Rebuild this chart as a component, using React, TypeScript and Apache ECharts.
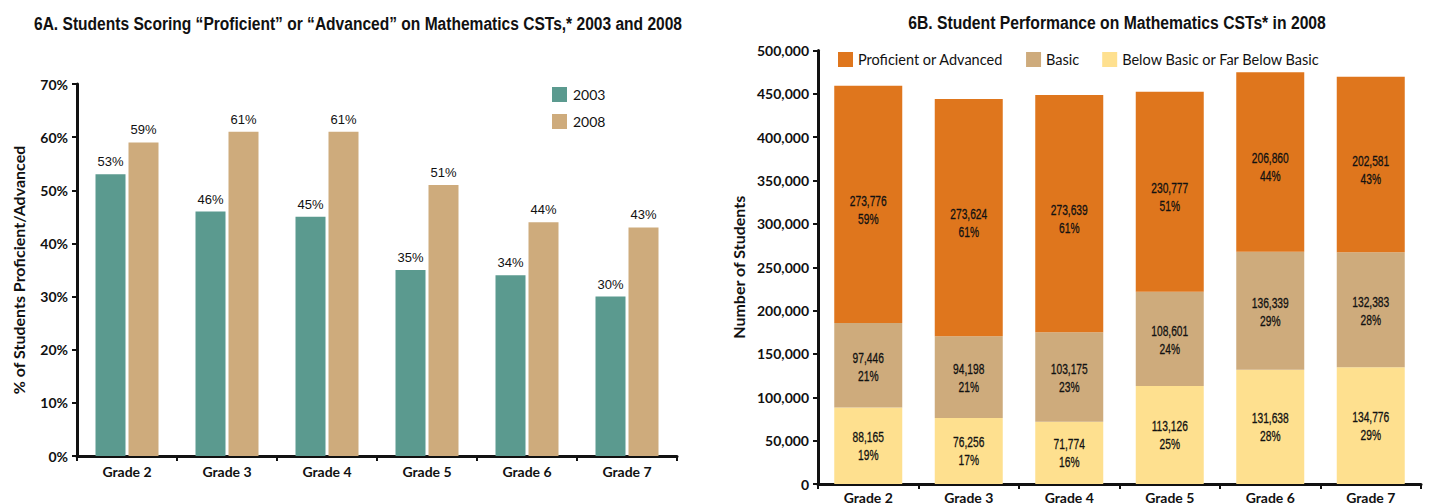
import React, { useEffect, useRef } from "react";
import * as echarts from "echarts";

const grades = ["Grade 2", "Grade 3", "Grade 4", "Grade 5", "Grade 6", "Grade 7"];
const pct2003 = [53, 46, 45, 35, 34, 30];
const pct2008 = [59, 61, 61, 51, 44, 43];

const proficient = [273776, 273624, 273639, 230777, 206860, 202581];
const basic = [97446, 94198, 103175, 108601, 136339, 132383];
const below = [88165, 76256, 71774, 113126, 131638, 134776];
const proficientPct = [59, 61, 61, 51, 44, 43];
const basicPct = [21, 21, 23, 24, 29, 28];
const belowPct = [19, 17, 16, 25, 28, 29];

const leftTicks = [0, 10, 20, 30, 40, 50, 60, 70];
const rightTicks = [0, 50000, 100000, 150000, 200000, 250000, 300000, 350000, 400000, 450000, 500000];

const titleA = "6A. Students Scoring \u201cProficient\u201d or \u201cAdvanced\u201d on Mathematics CSTs,* 2003 and 2008";
const titleB = "6B. Student Performance on Mathematics CSTs* in 2008";

const TEAL = "#5B9A8F";
const TAN = "#CEAB7C";
const ORANGE = "#DF761D";
const YELLOW = "#FEE08F";
const INK = "#111";

const HUMAN = "Lato, 'Open Sans', sans-serif";
const TITLE_FONT = "bold 19px 'Liberation Sans', Arial, sans-serif";
const LABEL_FONT = "15px 'Liberation Sans', Arial, sans-serif";
const SMALL_FONT = "13px 'Liberation Sans', Arial, sans-serif";

const fmt = (v: number) => v.toLocaleString("en-US");

function measure(text: string, font: string) {
  const ctx = document.createElement("canvas").getContext("2d");
  if (!ctx) return text.length * 8;
  ctx.font = font;
  return ctx.measureText(text).width;
}

export default function App() {
  const ref = useRef<HTMLDivElement>(null);
  useEffect(() => {
    if (!ref.current) return;
    const chart = echarts.init(ref.current, null, { renderer: "svg" });
    const axisLine = { show: true, lineStyle: { color: "#111", width: 3 } };
    const axisTick = { show: true, length: 5, lineStyle: { color: "#111", width: 2 } };
    const axisLabelStyle = { color: "#111", fontFamily: HUMAN, fontWeight: "bold" as const, fontSize: 14 };

    const scaleA = 648 / measure(titleA, TITLE_FONT);
    const scaleB = 418 / measure(titleB, TITLE_FONT);
    const labelScale = 37 / measure("273,776", LABEL_FONT);
    const smallScale = 21 / measure("53%", SMALL_FONT);

    const layers = [
      { values: below, pcts: belowPct, dy: 0 },
      { values: basic, pcts: basicPct, dy: 1 },
      { values: proficient, pcts: proficientPct, dy: 5 },
    ];
    const labelSeries = layers.map((layer, li) => {
      const data = grades.map((_, i) => {
        let base = 0;
        for (let k = 0; k < li; k++) base += layers[k].values[i];
        return [i, base, layer.values[i], layer.pcts[i]];
      });
      return {
        type: "custom",
        xAxisIndex: 1,
        yAxisIndex: 1,
        z: 5,
        silent: true,
        data,
        renderItem: (_params: any, api: any) => {
          const base = api.value(1);
          const v = api.value(2);
          const p = api.coord([api.value(0), base + v / 2]);
          return {
            type: "text",
            x: p[0],
            y: p[1] + layer.dy,
            scaleX: labelScale,
            style: {
              text: `${fmt(v)}\n${api.value(3)}%`,
              font: LABEL_FONT,
              fill: INK,
              stroke: INK,
              lineWidth: 0.3,
              align: "center",
              verticalAlign: "middle",
              lineHeight: 18,
            },
          };
        },
      };
    });

    const topLabel = {
      show: true,
      position: "top",
      distance: 6,
      color: INK,
      fontFamily: "'Liberation Sans', Arial, sans-serif",
      fontSize: 13,
      formatter: "{c}%",
    };

    chart.setOption({
      animation: false,
      graphic: [
        {
          type: "text",
          x: 358,
          y: 23,
          scaleX: scaleA,
          style: { text: titleA, font: TITLE_FONT, fill: "#111", align: "center", verticalAlign: "middle" },
        },
        {
          type: "text",
          x: 1117,
          y: 22,
          scaleX: scaleB,
          style: { text: titleB, font: TITLE_FONT, fill: "#111", align: "center", verticalAlign: "middle" },
        },
      ],
      legend: [
        {
          data: ["2003", "2008"],
          orient: "vertical",
          left: 552,
          top: 87,
          padding: 0,
          itemWidth: 15,
          itemHeight: 15,
          itemGap: 12,
          icon: "rect",
          textStyle: { fontFamily: HUMAN, fontSize: 14, color: "#111", padding: [0, 0, 0, 1] },
        },
        {
          data: ["Proficient or Advanced", "Basic", "Below Basic or Far Below Basic"],
          orient: "horizontal",
          left: 838,
          top: 52,
          padding: 0,
          itemWidth: 15,
          itemHeight: 15,
          itemGap: 23,
          icon: "rect",
          textStyle: { fontFamily: HUMAN, fontSize: 14.5, color: "#111" },
        },
      ],
      grid: [
        { left: 77, top: 84, width: 600, height: 372 },
        { left: 818, top: 50.5, width: 603, height: 436 },
      ],
      xAxis: [
        {
          type: "category",
          gridIndex: 0,
          data: grades,
          axisLine,
          axisTick,
          axisLabel: { ...axisLabelStyle, margin: 8 },
        },
        {
          type: "category",
          gridIndex: 1,
          data: grades,
          axisLine,
          axisTick,
          axisLabel: { ...axisLabelStyle, margin: 6 },
        },
      ],
      yAxis: [
        {
          type: "value",
          gridIndex: 0,
          min: leftTicks[0],
          max: leftTicks[leftTicks.length - 1],
          interval: leftTicks[1] - leftTicks[0],
          axisLine,
          axisTick,
          splitLine: { show: false },
          axisLabel: { ...axisLabelStyle, margin: 9, formatter: (v: number) => `${v}%` },
          name: "% of Students Proficient/Advanced",
          nameLocation: "middle",
          nameGap: 51,
          nameTextStyle: { ...axisLabelStyle, fontSize: 16 },
        },
        {
          type: "value",
          gridIndex: 1,
          min: rightTicks[0],
          max: rightTicks[rightTicks.length - 1],
          interval: rightTicks[1] - rightTicks[0],
          axisLine,
          axisTick,
          splitLine: { show: false },
          axisLabel: { ...axisLabelStyle, margin: 9, formatter: (v: number) => fmt(v) },
          name: "Number of Students",
          nameLocation: "middle",
          nameGap: 72,
          nameTextStyle: { ...axisLabelStyle, fontSize: 16 },
        },
      ],
      series: [
        {
          name: "2003",
          type: "bar",
          xAxisIndex: 0,
          yAxisIndex: 0,
          data: pct2003,
          barWidth: 30,
          barGap: "10%",
          itemStyle: { color: TEAL },
          label: topLabel,
        },
        {
          name: "2008",
          type: "bar",
          xAxisIndex: 0,
          yAxisIndex: 0,
          data: pct2008,
          barWidth: 30,
          barGap: "10%",
          itemStyle: { color: TAN },
          label: topLabel,
        },
        {
          name: "Below Basic or Far Below Basic",
          type: "bar",
          xAxisIndex: 1,
          yAxisIndex: 1,
          stack: "total",
          data: below,
          barWidth: 68,
          itemStyle: { color: YELLOW },
        },
        {
          name: "Basic",
          type: "bar",
          xAxisIndex: 1,
          yAxisIndex: 1,
          stack: "total",
          data: basic,
          barWidth: 68,
          itemStyle: { color: TAN },
        },
        {
          name: "Proficient or Advanced",
          type: "bar",
          xAxisIndex: 1,
          yAxisIndex: 1,
          stack: "total",
          data: proficient,
          barWidth: 68,
          itemStyle: { color: ORANGE },
        },
        ...labelSeries,
      ],
    });
    void smallScale;
    return () => chart.dispose();
  }, []);
  return (
    <div
      ref={ref}
      style={{ position: "fixed", left: 0, top: 0, width: 1432, height: 504, background: "#fff" }}
    />
  );
}
